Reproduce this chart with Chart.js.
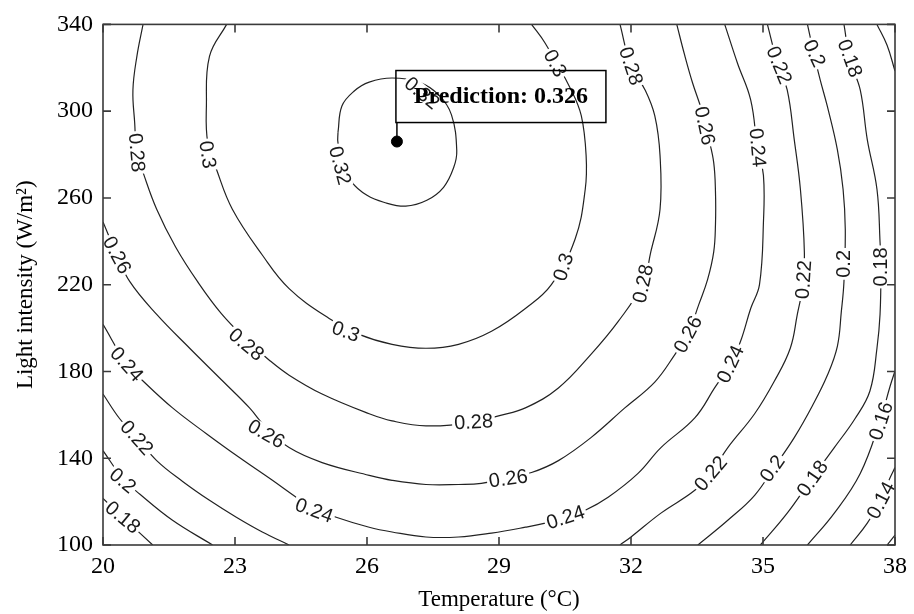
<!DOCTYPE html>
<html>
<head>
<meta charset="utf-8">
<script src="https://cdn.jsdelivr.net/npm/chart.js@4.4.1/dist/chart.umd.min.js"></script>
<style>
  html, body { margin: 0; padding: 0; background: #fff; }
  #wrap { width: 914px; height: 614px; }
</style>
</head>
<body>
<div id="wrap"><canvas id="contourCanvas" width="914" height="614"></canvas></div>
<script>
// axis ticks
const xTicks = [20, 23, 26, 29, 32, 35, 38];
const yTicks = [100, 140, 180, 220, 260, 300, 340];

// contour lines, [temperature, light intensity]
const level032 = [[25.34, 290.1], [25.43, 302.4], [25.71, 309.3], [26.05, 313.4], [26.57, 315.3], [27.18, 313.4],
  [27.63, 307.5], [27.92, 298.3], [28.04, 281.8], [27.97, 274.0], [27.74, 264.9], [27.36, 258.9], [26.88, 256.2],
  [26.38, 258.0], [26.00, 261.2], [25.66, 267.2], [25.46, 276.3], [25.34, 285.5], [25.34, 290.1]];
const level030 = [[22.81, 340], [22.42, 325.3], [22.35, 302.4], [22.38, 285.5], [22.58, 273.1], [22.94, 254.8],
  [23.62, 233.7], [24.23, 218.2], [25.14, 204.4], [25.82, 197.1], [26.57, 192.5], [27.34, 190.7], [28.08, 192.5],
  [28.83, 198.5], [29.60, 209.0], [30.19, 220.0], [30.73, 241.1], [30.96, 264.0], [30.98, 279.5], [30.87, 297.9],
  [30.64, 309.8], [30.05, 331.3], [29.74, 340]];
const level028 = [[20.91, 340], [20.77, 325.3], [20.68, 309.8], [20.72, 294.7], [20.77, 280.9], [20.91, 271.8],
  [21.22, 254.8], [21.65, 237.4], [22.15, 221.4], [22.69, 206.7], [23.28, 194.3], [23.78, 185.2], [24.23, 178.3],
  [24.98, 169.6], [26.05, 160.5], [26.57, 157.2], [27.34, 154.9], [28.38, 156.3], [28.99, 159.5], [29.60, 163.2],
  [30.35, 172.4], [31.09, 187.9], [31.71, 203.1], [32.27, 220.5], [32.45, 235.1], [32.66, 254.8], [32.66, 279.5],
  [32.54, 297.9], [32.32, 309.8], [32.00, 320.8], [31.75, 340]];
const level026 = [[20, 248.9], [20.32, 233.7], [20.61, 221.4], [21.22, 206.3], [21.97, 190.7], [22.72, 175.6],
  [23.33, 163.2], [23.71, 154.0], [24.23, 144.9], [24.98, 138.0], [26.05, 132.1], [26.57, 129.8], [27.34, 127.9],
  [28.08, 127.9], [28.60, 128.4], [29.21, 131.1], [29.74, 133.4], [30.35, 138.9], [31.09, 149.5], [31.86, 163.2],
  [32.54, 175.1], [33.00, 187.9], [33.29, 197.1], [33.54, 210.8], [33.74, 222.3], [33.88, 235.1], [33.92, 247.9],
  [33.92, 262.6], [33.88, 276.3], [33.76, 287.8], [33.61, 300.2], [33.40, 313.0], [33.22, 325.8], [33.04, 340]];
const level024 = [[20, 201.7], [20.54, 183.4], [20.91, 175.6], [21.58, 163.2], [22.35, 151.3], [23.10, 140.3],
  [23.85, 129.8], [24.39, 122.0], [24.75, 117.4], [25.30, 112.8], [26.05, 108.2], [26.57, 106.0], [27.34, 103.7],
  [28.08, 103.7], [28.83, 105.5], [29.60, 108.2], [30.05, 110.1], [30.51, 112.8], [30.96, 116.0], [31.48, 122.0],
  [32.16, 133.0], [32.68, 144.9], [33.45, 158.6], [33.90, 172.4], [34.26, 183.4], [34.49, 193.9], [34.72, 209.0],
  [34.92, 220.0], [35.01, 248.9], [35.01, 270.4], [34.88, 282.3], [34.72, 305.2], [34.42, 322.1], [34.13, 340]];
const level022Left = [[20, 169.6], [20.38, 158.2], [20.77, 149.5], [21.22, 138.9], [21.81, 129.3], [22.42, 120.6],
  [23.03, 112.8], [23.62, 106.0], [24.23, 100]];
const level022Right = [[31.75, 100], [32.00, 103.7], [32.68, 114.7], [33.45, 125.2], [33.81, 133.0], [34.20, 144.9],
  [34.81, 160.5], [35.26, 175.6], [35.62, 190.7], [35.78, 206.3], [35.90, 219.1], [35.94, 235.1], [35.85, 264.0],
  [35.71, 286.9], [35.55, 309.8], [35.33, 322.1], [35.10, 340]];
const level020Left = [[20, 143.5], [20.45, 130.7], [20.84, 123.4], [21.58, 111.4], [22.49, 100]];
const level020Right = [[33.52, 100], [34.20, 111.4], [34.81, 122.9], [35.28, 136.6], [35.71, 149.5], [36.12, 164.1],
  [36.46, 178.1], [36.69, 191.6], [36.78, 207.6], [36.84, 221.4], [36.87, 245.6], [36.82, 264.0], [36.69, 282.3],
  [36.46, 302.4], [36.30, 314.4], [36.17, 325.3], [36.01, 340]];
const level018Left = [[20, 121.5], [20.45, 112.8], [21.13, 100]];
const level018Right = [[34.94, 100], [35.55, 114.7], [36.08, 129.8], [36.62, 144.9], [37.09, 158.2], [37.43, 171.0],
  [37.59, 190.7], [37.66, 206.3], [37.68, 227.3], [37.66, 239.7], [37.59, 264.0], [37.37, 286.9], [37.21, 309.8],
  [36.98, 323.5], [36.84, 340]];
const level016Bottom = [[36.01, 100], [36.62, 114.7], [37.21, 133.0], [37.66, 157.2], [37.89, 173.3], [38, 180.2]];
const level016Top = [[37.59, 340], [37.82, 330.4], [38, 318.5]];
const level014 = [[36.98, 100], [37.37, 110.1], [37.66, 120.6], [37.89, 131.1], [38, 135.7]];
const level012 = [[37.82, 100], [38, 104.6]];

// inline contour labels: text, position, rotation
const contourLabels = [
  { text: '0.28', x: 20.77, y: 280.9, angle: 85 },
  { text: '0.3', x: 22.38, y: 280.0, angle: 82 },
  { text: '0.32', x: 25.39, y: 275.0, angle: 75 },
  { text: '0.26', x: 20.32, y: 233.7, angle: 62 },
  { text: '0.32', x: 27.25, y: 308.4, angle: 40 },
  { text: '0.3', x: 30.28, y: 322.1, angle: 62 },
  { text: '0.28', x: 32.00, y: 320.8, angle: 72 },
  { text: '0.26', x: 33.68, y: 293.3, angle: 78 },
  { text: '0.24', x: 34.88, y: 283.2, angle: 85 },
  { text: '0.22', x: 35.37, y: 321.2, angle: 68 },
  { text: '0.2', x: 36.17, y: 326.7, angle: 65 },
  { text: '0.18', x: 36.98, y: 324.4, angle: 70 },
  { text: '0.3', x: 30.46, y: 228.2, angle: -72 },
  { text: '0.28', x: 32.27, y: 220.5, angle: -78 },
  { text: '0.26', x: 33.29, y: 197.1, angle: -62 },
  { text: '0.24', x: 34.26, y: 183.4, angle: -65 },
  { text: '0.22', x: 35.92, y: 222.3, angle: -86 },
  { text: '0.2', x: 36.84, y: 229.6, angle: -90 },
  { text: '0.18', x: 37.68, y: 228.2, angle: -90 },
  { text: '0.22', x: 33.81, y: 133.0, angle: -50 },
  { text: '0.2', x: 35.21, y: 135.3, angle: -55 },
  { text: '0.18', x: 36.12, y: 130.7, angle: -55 },
  { text: '0.16', x: 37.68, y: 157.2, angle: -72 },
  { text: '0.14', x: 37.68, y: 120.6, angle: -62 },
  { text: '0.3', x: 25.52, y: 198.5, angle: 20 },
  { text: '0.28', x: 23.26, y: 192.5, angle: 40 },
  { text: '0.26', x: 23.71, y: 151.3, angle: 30 },
  { text: '0.24', x: 20.54, y: 183.4, angle: 48 },
  { text: '0.22', x: 20.77, y: 149.5, angle: 48 },
  { text: '0.2', x: 20.45, y: 129.8, angle: 40 },
  { text: '0.18', x: 20.45, y: 112.8, angle: 40 },
  { text: '0.24', x: 24.80, y: 116.0, angle: 20 },
  { text: '0.28', x: 28.42, y: 156.8, angle: -3 },
  { text: '0.26', x: 29.21, y: 130.7, angle: -8 },
  { text: '0.24', x: 30.51, y: 112.8, angle: -18 }
];

// optimum marked on the plot
const prediction = { x: 26.68, y: 286, value: 0.326 };

const contourLines = [level032, level030, level028, level026, level024, level022Left, level022Right,
  level020Left, level020Right, level018Left, level018Right, level016Bottom, level016Top, level014, level012];

const serif = '"Liberation Serif", "Times New Roman", serif';

const decorPlugin = {
  id: 'contourDecor',
  afterDatasetsDraw(chart) {
    const { ctx, chartArea: area, scales: { x, y } } = chart;
    ctx.save();

    // contour labels, with a white gap in the line
    ctx.font = '20px "Liberation Sans", Arial, sans-serif';
    ctx.textAlign = 'center';
    ctx.textBaseline = 'middle';
    contourLabels.forEach(label => {
      const px = x.getPixelForValue(label.x);
      const py = y.getPixelForValue(label.y);
      const w = ctx.measureText(label.text).width;
      ctx.save();
      ctx.translate(px, py);
      ctx.rotate(label.angle * Math.PI / 180);
      ctx.fillStyle = '#fff';
      ctx.fillRect(-w / 2 - 2, -8, w + 4, 16);
      ctx.fillStyle = '#1a1a1a';
      ctx.fillText(label.text, 0, 1);
      ctx.restore();
    });

    // frame and inward ticks
    ctx.strokeStyle = '#3a3a3a';
    ctx.lineWidth = 1.6;
    ctx.strokeRect(area.left, area.top, area.right - area.left, area.bottom - area.top);
    ctx.beginPath();
    x.ticks.forEach((t, i) => {
      const px = x.getPixelForTick(i);
      ctx.moveTo(px, area.bottom); ctx.lineTo(px, area.bottom - 8);
      ctx.moveTo(px, area.top); ctx.lineTo(px, area.top + 8);
    });
    y.ticks.forEach((t, i) => {
      const py = y.getPixelForTick(i);
      ctx.moveTo(area.left, py); ctx.lineTo(area.left + 8, py);
      ctx.moveTo(area.right, py); ctx.lineTo(area.right - 8, py);
    });
    ctx.stroke();

    // prediction callout
    const mx = x.getPixelForValue(prediction.x);
    const my = y.getPixelForValue(prediction.y);
    const boxLeft = mx - 1, boxTop = my - 71, boxW = 210, boxH = 52;
    ctx.strokeStyle = '#000';
    ctx.lineWidth = 1.5;
    ctx.beginPath();
    ctx.moveTo(mx, my);
    ctx.lineTo(mx, boxTop + boxH);
    ctx.stroke();
    ctx.strokeRect(boxLeft, boxTop, boxW, boxH);
    ctx.fillStyle = '#000';
    ctx.font = 'bold 24px ' + serif;
    ctx.textAlign = 'center';
    ctx.textBaseline = 'middle';
    ctx.fillText('Prediction: ' + prediction.value.toFixed(3), boxLeft + boxW / 2, boxTop + boxH / 2);
    ctx.restore();
  }
};

const datasets = contourLines.map(line => ({
  data: line.map(p => ({ x: p[0], y: p[1] })),
  showLine: true,
  borderColor: '#222',
  borderWidth: 1.2,
  pointRadius: 0,
  tension: 0.4,
  fill: false
}));
datasets.unshift({
  data: [{ x: prediction.x, y: prediction.y }],
  pointRadius: 5.5,
  pointBackgroundColor: '#000',
  pointBorderColor: '#000',
  showLine: false
});

new Chart(document.getElementById('contourCanvas').getContext('2d'), {
  type: 'scatter',
  data: { datasets: datasets },
  options: {
    responsive: false,
    animation: false,
    layout: { padding: { top: 21, right: 16, bottom: 0, left: 0 } },
    plugins: { legend: { display: false }, tooltip: { enabled: false } },
    scales: {
      x: {
        type: 'linear',
        min: 20,
        max: 38,
        afterBuildTicks: scale => { scale.ticks = xTicks.map(v => ({ value: v })); },
        afterFit: scale => { scale.height = 69; },
        grid: { display: false, drawTicks: false },
        border: { display: false },
        ticks: { color: '#000', padding: 7, maxRotation: 0, font: { family: serif, size: 24 } },
        title: { display: true, text: 'Temperature (°C)', color: '#000', padding: { top: 0, bottom: 0 },
          font: { family: serif, size: 23 } }
      },
      y: {
        type: 'linear',
        min: 100,
        max: 340,
        afterBuildTicks: scale => { scale.ticks = yTicks.map(v => ({ value: v })); },
        afterFit: scale => { scale.width = 103; },
        grid: { display: false, drawTicks: false },
        border: { display: false },
        ticks: { color: '#000', padding: 10, font: { family: serif, size: 24 } },
        title: { display: true, text: 'Light intensity (W/m²)', color: '#000', padding: { top: 12, bottom: 0 },
          font: { family: serif, size: 23 } }
      }
    }
  },
  plugins: [decorPlugin]
});
</script>
</body>
</html>
